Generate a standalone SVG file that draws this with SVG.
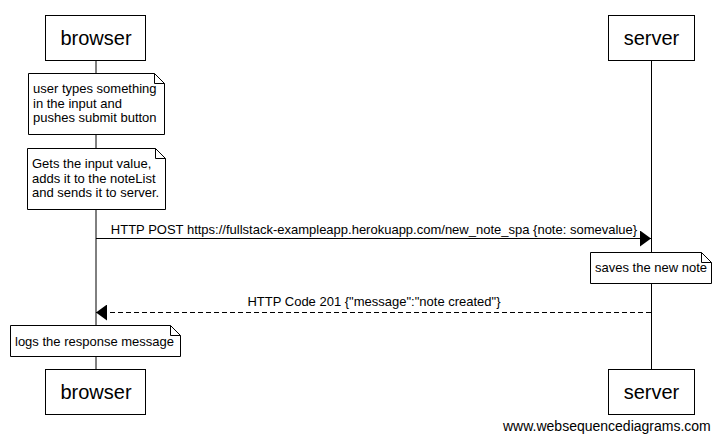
<svg xmlns="http://www.w3.org/2000/svg" width="723" height="439" viewBox="0 0 723 439">
<style>
text{font-family:"Liberation Sans",Arial,sans-serif;fill:#000}
.box{fill:#fff;stroke:#000;stroke-width:1}
.lbl{font-size:20px;text-anchor:middle}
.note{fill:#fff;stroke:#000;stroke-width:1}
.nt{font-size:13px}
.msg{font-size:13px;text-anchor:middle}
.life{stroke:#000;stroke-width:1}
.arr{stroke:#000;stroke-width:1;fill:none}
</style>
<defs>
<marker id="ah" markerWidth="11" markerHeight="16" refX="11" refY="8" orient="auto" markerUnits="userSpaceOnUse">
<path d="M0,0 L11,8 L0,16 Z" fill="#000"/>
</marker>
</defs>
<rect width="723" height="439" fill="#fff"/>
<g id="lifelines">
<line class="life" x1="96" y1="61" x2="96" y2="369"/>
<line class="life" x1="651.5" y1="60" x2="651.5" y2="369"/>
</g>
<g id="connectors">
<line class="arr" x1="96" y1="238.5" x2="651" y2="238.5" marker-end="url(#ah)"/>
<text class="msg" x="374" y="234">HTTP POST https://fullstack-exampleapp.herokuapp.com/new_note_spa {note: somevalue}</text>
<line class="arr" x1="651" y1="312.5" x2="96" y2="312.5" stroke-dasharray="5,3" marker-end="url(#ah)"/>
<text class="msg" x="374" y="306">HTTP Code 201 {"message":"note created"}</text>
</g>
<g id="browser-top">
<rect class="box" x="45.5" y="15.5" width="100" height="45"/>
<text class="lbl" x="96" y="45">browser</text>
</g>
<g id="server-top">
<rect class="box" x="608.5" y="15.5" width="86" height="45"/>
<text class="lbl" x="651.5" y="45">server</text>
</g>
<g id="note1">
<path class="note" d="M28.5,73.5 H154.5 L164.5,83.5 V134.5 H28.5 Z"/>
<path class="arr" d="M154.5,73.5 V83.5 H164.5"/>
<text class="nt" x="33" y="93">user types something</text>
<text class="nt" x="33" y="107.5">in the input and</text>
<text class="nt" x="33" y="122">pushes submit button</text>
</g>
<g id="note2">
<path class="note" d="M27.5,148.5 H155.5 L165.5,158.5 V209.5 H27.5 Z"/>
<path class="arr" d="M155.5,148.5 V158.5 H165.5"/>
<text class="nt" x="32" y="168">Gets the input value,</text>
<text class="nt" x="32" y="182.5">adds it to the noteList</text>
<text class="nt" x="32" y="197">and sends it to server.</text>
</g>
<g id="note3">
<path class="note" d="M590.5,252.5 H701.5 L711.5,262.5 V283.5 H590.5 Z"/>
<path class="arr" d="M701.5,252.5 V262.5 H711.5"/>
<text class="nt" x="595" y="272">saves the new note</text>
</g>
<g id="note4">
<path class="note" d="M10.5,325.5 H170.5 L180.5,335.5 V356.5 H10.5 Z"/>
<path class="arr" d="M170.5,325.5 V335.5 H180.5"/>
<text class="nt" x="15" y="346">logs the response message</text>
</g>
<g id="browser-bottom">
<rect class="box" x="45.5" y="369.5" width="100" height="45"/>
<text class="lbl" x="96" y="399">browser</text>
</g>
<g id="server-bottom">
<rect class="box" x="608.5" y="369.5" width="86" height="45"/>
<text class="lbl" x="651.5" y="399">server</text>
</g>
<text x="503" y="431" font-size="14">www.websequencediagrams.com</text>
</svg>
